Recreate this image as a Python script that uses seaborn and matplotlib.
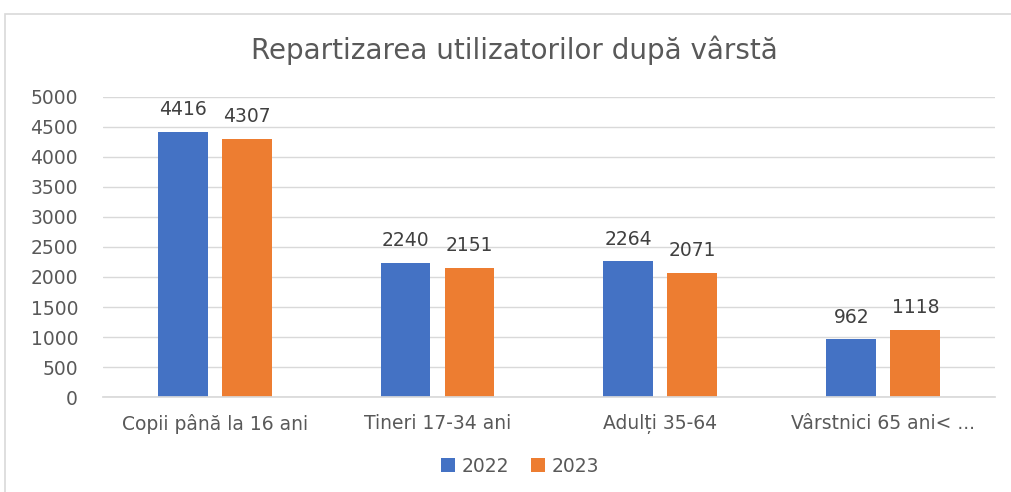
import matplotlib
matplotlib.use("Agg")
import matplotlib.pyplot as plt
import seaborn as sns
import pandas as pd
from matplotlib.patches import Rectangle

categories = ["Copii până la 16 ani", "Tineri 17-34 ani", "Adulți 35-64", "Vârstnici 65 ani< ..."]
years = ["2022", "2023"]
values_2022 = [4416, 2240, 2264, 962]
values_2023 = [4307, 2151, 2071, 1118]
yticks = [0, 500, 1000, 1500, 2000, 2500, 3000, 3500, 4000, 4500, 5000]
title = "Repartizarea utilizatorilor după vârstă"

df = pd.DataFrame({
    "cat": categories * 2,
    "year": [years[0]] * 4 + [years[1]] * 4,
    "val": values_2022 + values_2023,
})

sns.set_theme(style="white")
plt.rcParams['font.family'] = ['DejaVu Sans']

fig = plt.figure(figsize=(10.11, 4.92), dpi=100)
ax = fig.add_axes([0.102, 0.193, 0.882, 0.610])

palette = {"2022": "#4472C4", "2023": "#ED7D31"}
sns.barplot(data=df, x="cat", y="val", hue="year", palette=palette, ax=ax,
            width=0.574, gap=0.22, saturation=1, linewidth=0, legend=True)

for cont in ax.containers:
    ax.bar_label(cont, fmt="%d", padding=9, fontsize=13.5, color="#404040")

ax.set_ylim(0, 5000)
ax.set_yticks(yticks)
ax.set_yticklabels([str(t) for t in yticks], fontsize=13.5, color="#595959")
ax.tick_params(axis="x", labelsize=13.5, colors="#595959", length=0, pad=12)
ax.tick_params(axis="y", length=0, pad=18)
for lbl in ax.get_xticklabels():
    lbl.set_color("#595959")
ax.set_xlabel("")
ax.set_ylabel("")
ax.grid(axis="y", color="#D9D9D9", linewidth=1)
ax.set_axisbelow(True)
for s in ["top", "right", "left"]:
    ax.spines[s].set_visible(False)
ax.spines["bottom"].set_color("#D9D9D9")

handles, labels = ax.get_legend_handles_labels()
ax.get_legend().remove()
leg = fig.legend(handles, labels, loc="center", bbox_to_anchor=(520 / 1011, 1 - 466 / 492), ncol=2,
                 frameon=False, fontsize=13.5, handlelength=0.75, handleheight=0.75,
                 columnspacing=1.2, handletextpad=0.35)
for t in leg.get_texts():
    t.set_color("#595959")

fig.text(0.509, 0.898, title, ha="center", va="center", fontsize=20, color="#595959")

fig.patches.append(Rectangle((5 / 1011, -0.1), 1.2, 1 - 14 / 492 + 0.1, transform=fig.transFigure,
                             fill=False, edgecolor="#D9D9D9", linewidth=1.2))

fig.savefig("out.png", dpi=100)
